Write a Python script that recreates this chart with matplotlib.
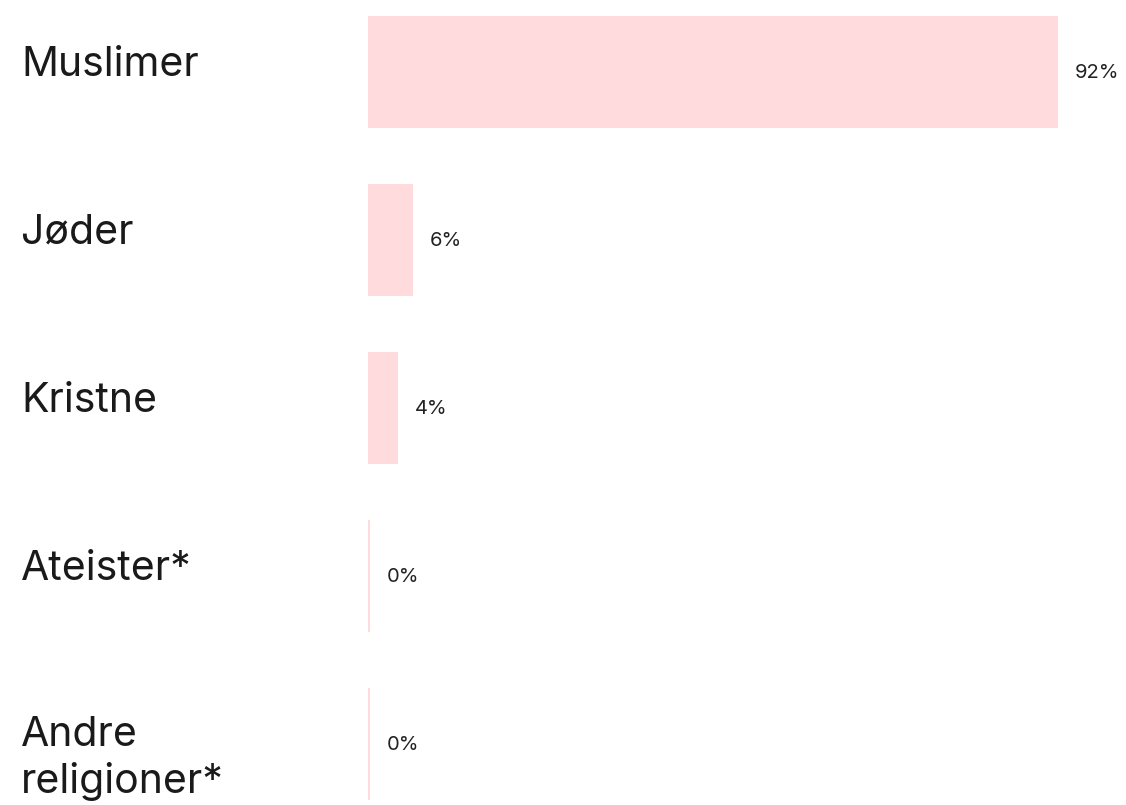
import matplotlib
matplotlib.use("Agg")
import matplotlib.pyplot as plt
from matplotlib.transforms import blended_transform_factory, offset_copy

categories = ["Muslimer", "Jøder", "Kristne", "Ateister*", "Andre\nreligioner*"]
values = [92, 6, 4, 0, 0]
value_labels = ["92%", "6%", "4%", "0%", "0%"]

W, H = 1126, 805
fig = plt.figure(figsize=(W / 100, H / 100), dpi=100)
ax = fig.add_axes([368 / W, 1 - 800 / H, (1118 - 368) / W, (800 - 16) / H])

bar_color = "#FFDBDE"
ys = list(range(len(categories)))
plot_vals = [max(v, 0.25) for v in values]
ax.barh(ys, plot_vals, height=0.667, color=bar_color, left=0)
ax.set_xlim(0, 100)
ax.set_ylim(len(categories) - 1 + 0.333, -0.333)
ax.axis("off")

for y, v, lab in zip(ys, plot_vals, value_labels):
    ax.annotate(lab, xy=(v, y), xytext=(12, -0.5), textcoords="offset points",
                ha="left", va="center", fontsize=14.5, color="#222222",
                family="Inter")

base = blended_transform_factory(fig.transFigure, ax.transData)
line_gap = 47  # pixels between wrapped lines
for y, cat in zip(ys, categories):
    lines = cat.split("\n")
    shift = -4 if len(lines) == 1 else -2
    for i, line in enumerate(lines):
        tr = offset_copy(base, fig=fig, x=0, y=shift - i * line_gap, units="dots")
        ax.text(21 / W, y, line, transform=tr, ha="left", va="baseline",
                fontsize=29.5, color="#1a1a1a", family="Inter")

fig.savefig("out.png", dpi=100)
